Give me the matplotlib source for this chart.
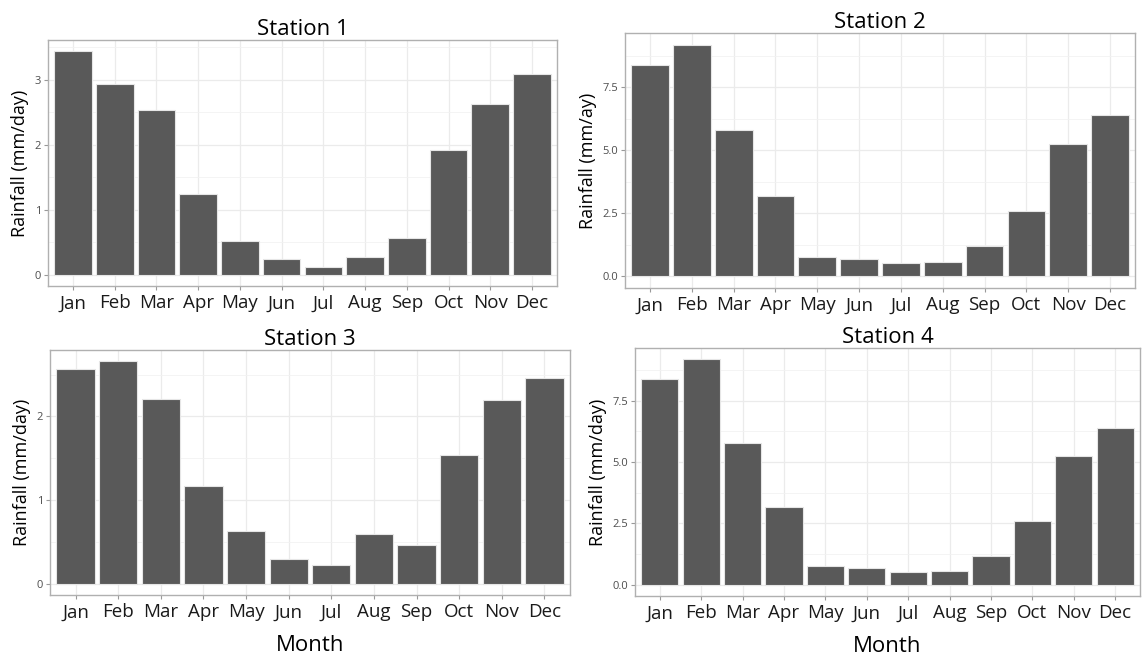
import matplotlib.pyplot as plt
import numpy as np

months = ["Jan", "Feb", "Mar", "Apr", "May", "Jun", "Jul", "Aug", "Sep", "Oct", "Nov", "Dec"]

station1 = [3.44, 2.94, 2.53, 1.25, 0.52, 0.25, 0.12, 0.28, 0.56, 1.92, 2.63, 3.09]
station2 = [8.37, 9.19, 5.79, 3.17, 0.75, 0.70, 0.52, 0.57, 1.19, 2.59, 5.23, 6.38]
station3 = [2.57, 2.66, 2.21, 1.17, 0.63, 0.30, 0.22, 0.60, 0.46, 1.54, 2.19, 2.46]
station4 = [8.37, 9.19, 5.79, 3.17, 0.75, 0.70, 0.52, 0.57, 1.19, 2.59, 5.23, 6.38]

titles = ["Station 1", "Station 2", "Station 3", "Station 4"]
ylabels = ["Rainfall (mm/day)", "Rainfall (mm/ay)", "Rainfall (mm/day)", "Rainfall (mm/day)"]
yticks1 = [0, 1, 2, 3]
yticks2 = [0.0, 2.5, 5.0, 7.5]

plt.rcParams['font.family'] = ['Open Sans', 'DejaVu Sans']

fig = plt.figure(figsize=(11.43, 6.56), dpi=100)

W, H = 1143, 656
def box(l, r, t, b):
    return [l / W, 1 - b / H, (r - l) / W, (b - t) / H]

boxes = [box(48, 557, 40, 286), box(625, 1135, 33, 288),
         box(50, 570, 350, 595), box(635, 1140, 348, 596)]
data = [station1, station2, station3, station4]
ticks = [yticks1, yticks2, yticks1, yticks2]
fmts = ["{:.0f}", "{:.1f}", "{:.0f}", "{:.1f}"]

for i in range(4):
    ax = fig.add_axes(boxes[i])
    vals = np.array(data[i])
    x = np.arange(len(months))
    ymax = vals.max()
    lo, hi = -0.05 * ymax, 1.05 * ymax
    # ggplot-like grid
    yt = [v for v in ticks[i] if lo <= v <= hi]
    step = ticks[i][1] - ticks[i][0]
    minor = [m for m in np.arange(-step / 2, hi, step) if lo <= m <= hi]
    ax.set_yticks(yt)
    ax.set_yticks(minor, minor=True)
    ax.set_xticks(x)
    ax.set_xlim(-0.6, len(months) - 0.4)
    ax.set_ylim(lo, hi)
    ax.grid(which='major', color='#ebebeb', linewidth=0.9)
    ax.grid(which='minor', axis='y', color='#f2f2f2', linewidth=0.6)
    ax.set_axisbelow(True)
    ax.bar(x, vals, width=0.9, color='#595959', edgecolor='#e6e6e6', linewidth=0.8)
    ax.set_xticklabels(months, fontsize=13.5, color='#1a1a1a')
    ax.set_yticklabels([fmts[i].format(v) for v in yt], fontsize=8, color='#4d4d4d')
    ax.tick_params(which='major', length=3, color='#999999', pad=2)
    ax.tick_params(which='minor', length=0)
    ax.tick_params(axis='x', pad=3)
    for s in ax.spines.values():
        s.set_color('#b0b0b0')
        s.set_linewidth(1.0)
    ax.set_title(titles[i], fontsize=16, pad=2)
    ax.set_ylabel(ylabels[i], fontsize=13, labelpad=4)
    if i >= 2:
        ax.set_xlabel("Month", fontsize=16, labelpad=10)

plt.savefig("out.png", dpi=100)
